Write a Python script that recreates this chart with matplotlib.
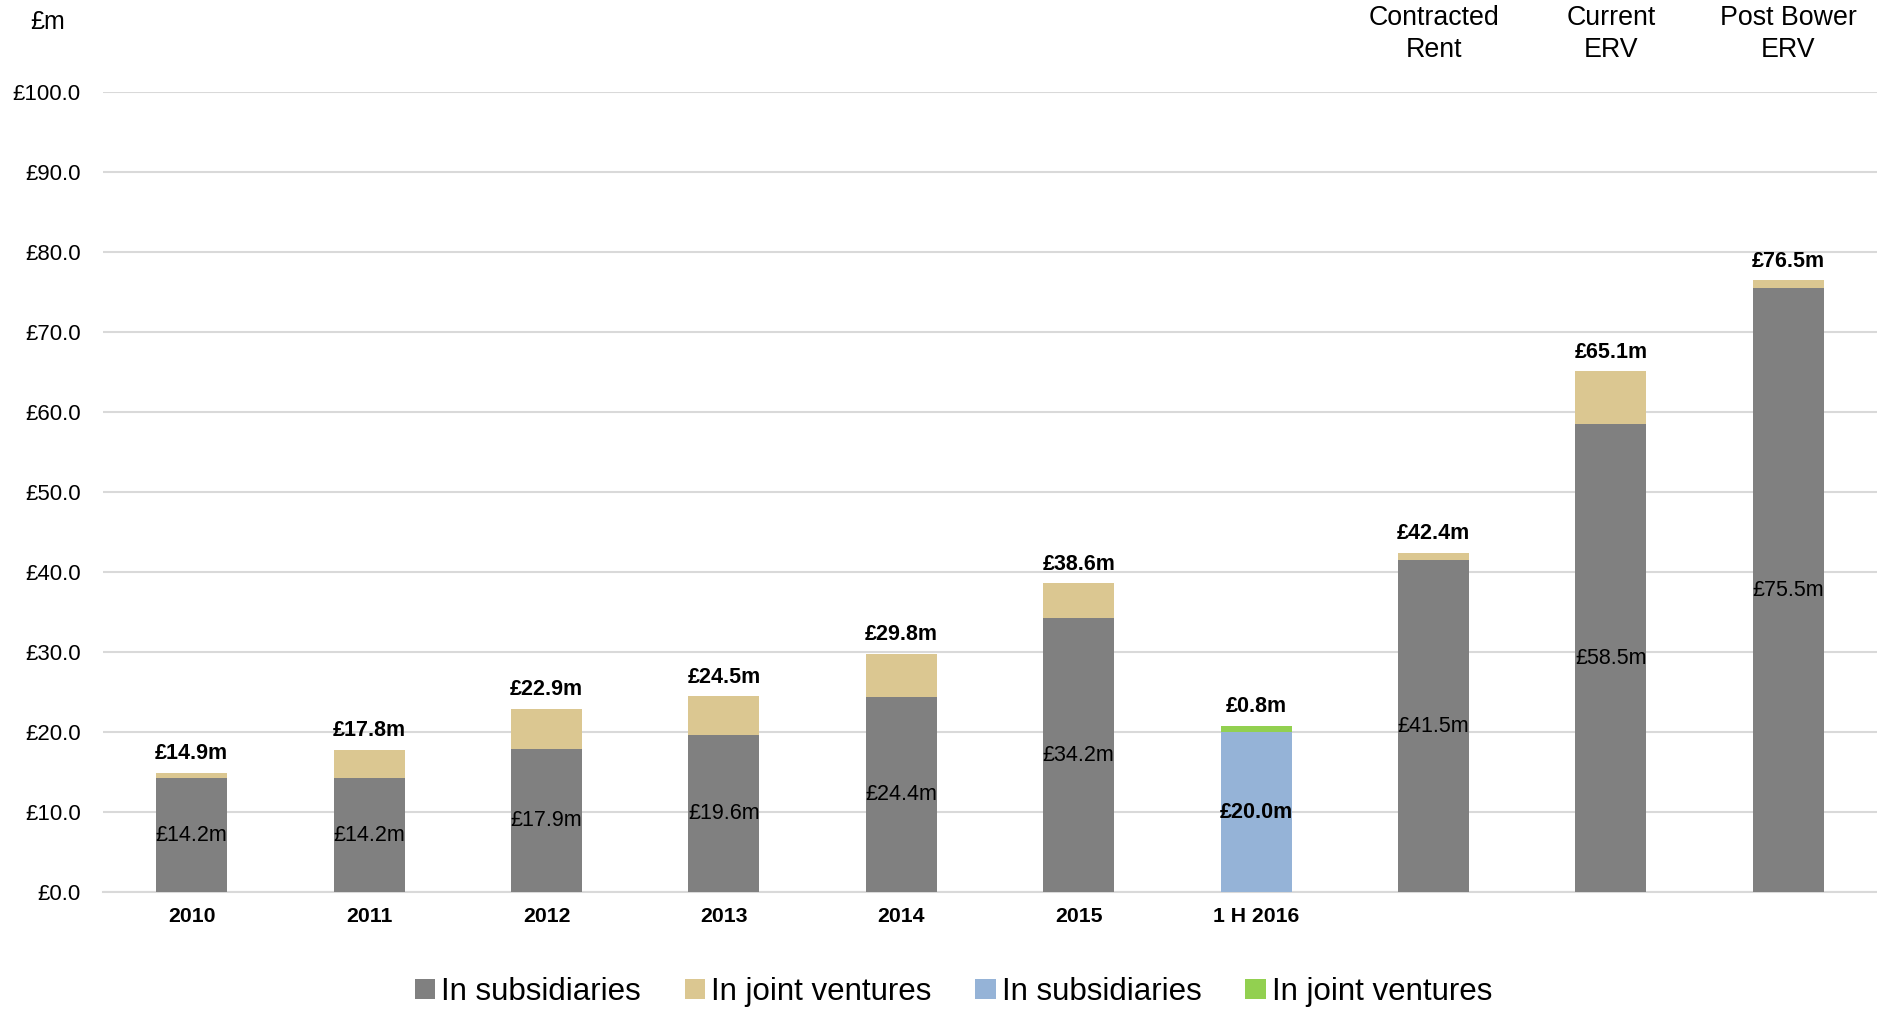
import matplotlib
matplotlib.use("Agg")
import matplotlib.pyplot as plt
import matplotlib.transforms as mtransforms
import numpy as np

plt.rcParams['font.family'] = ['Liberation Sans', 'DejaVu Sans']

# Values (£m)
tick_labels = ['2010', '2011', '2012', '2013', '2014', '2015', '1 H 2016', '', '', '']
top_labels = ['', '', '', '', '', '', '', 'Contracted\nRent', 'Current\nERV', 'Post Bower\nERV']
subsidiaries = [14.2, 14.2, 17.9, 19.6, 24.4, 34.2, 0.0, 41.5, 58.5, 75.5]
totals = [14.9, 17.8, 22.9, 24.5, 29.8, 38.6, 0.0, 42.4, 65.1, 76.5]
h1_subsidiaries = 20.0
h1_joint_ventures = 0.8
h1_index = 6

grey = '#808080'
tan = '#dbc791'
blue = '#95b3d7'
green = '#92d050'
grid_col = '#d9d9d9'

x = np.arange(len(tick_labels))
subs = np.array(subsidiaries)
jv = np.array(totals) - subs
mask = x != h1_index

fig = plt.figure(figsize=(18.77, 10.09), dpi=100)
ax = fig.add_axes([103 / 1877, 1 - 892 / 1009, 1 - 103 / 1877, 800 / 1009])

w = 0.4
b1 = ax.bar(x[mask], subs[mask], width=w, color=grey, label='In subsidiaries', zorder=3)
b2 = ax.bar(x[mask], jv[mask], width=w, bottom=subs[mask], color=tan, label='In joint ventures', zorder=3)
b3 = ax.bar([h1_index], [h1_subsidiaries], width=w, color=blue, label='In subsidiaries', zorder=3)
b4 = ax.bar([h1_index], [h1_joint_ventures], width=w, bottom=[h1_subsidiaries], color=green,
            label='In joint ventures', zorder=3)

# labels inside bars
for xi, s in zip(x[mask], subs[mask]):
    ax.text(xi, s / 2, f'£{s:.1f}m', ha='center', va='center', fontsize=15.5, color='black', zorder=4)
ax.text(h1_index, h1_subsidiaries / 2, f'£{h1_subsidiaries:.1f}m', ha='center', va='center',
        fontsize=15.5, fontweight='bold', zorder=4)

# totals above bars
for xi, t in zip(x[mask], np.array(totals)[mask]):
    ax.annotate(f'£{t:.1f}m', (xi, t), xytext=(0, 6), textcoords='offset points',
                ha='center', va='bottom', fontsize=15.5, fontweight='bold')
ax.annotate(f'£{h1_joint_ventures:.1f}m', (h1_index, h1_subsidiaries + h1_joint_ventures),
            xytext=(0, 6), textcoords='offset points', ha='center', va='bottom',
            fontsize=15.5, fontweight='bold')

ax.set_xlim(-0.5, len(x) - 0.5)
ax.set_ylim(0, 100)
ax.set_yticks(np.arange(0, 101, 10))
ax.set_yticklabels([f'£{v:.1f}' for v in np.arange(0, 101, 10)], fontsize=16)
ax.set_xticks(x)
ax.set_xticklabels(tick_labels, fontsize=15.3, fontweight='bold')
ax.tick_params(axis='y', length=0, pad=16)
ax.tick_params(axis='x', length=0, pad=11)
ax.yaxis.grid(True, color=grid_col, lw=1.5, zorder=0)
ax.set_axisbelow(True)
for side in ['top', 'right', 'left']:
    ax.spines[side].set_visible(False)
ax.spines['bottom'].set_color(grid_col)
ax.spines['bottom'].set_linewidth(1.5)

trans = mtransforms.blended_transform_factory(ax.transData, fig.transFigure)
for xi, lab in zip(x, top_labels):
    if lab:
        ax.text(xi, 1 - 34 / 1009, lab, transform=trans, ha='center', va='center',
                fontsize=19.3, linespacing=1.3)

fig.text(48 / 1877, 1 - 22 / 1009, '£m', ha='center', va='center', fontsize=18)

fig.legend(handles=[b1, b2, b3, b4], loc='center', bbox_to_anchor=(0.508, 1 - 992 / 1009),
           ncol=4, frameon=False, fontsize=22.5, handlelength=0.65, handleheight=0.65,
           handletextpad=0.2, columnspacing=1.4)

fig.savefig('out.png', dpi=100)
